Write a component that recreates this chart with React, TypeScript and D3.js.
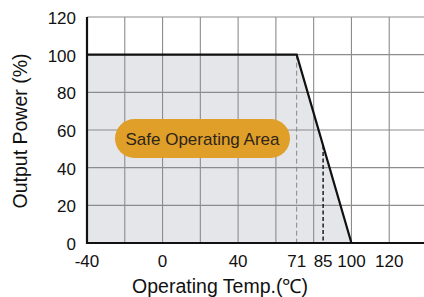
import React from "react";
import * as d3 from "d3";

// Data
const xTickValues = [-40, 0, 40, 71, 85, 100, 120];
const yTickValues = [0, 20, 40, 60, 80, 100, 120];
const xGridValues = [-40, -20, 0, 20, 40, 60, 80, 100, 120, 140];
const yGridValues = [20, 40, 60, 80, 100, 120];
const derateTemps = [-40, 71, 100];
const deratePower = [100, 100, 0];
const markerTemps = [71, 85];
const areaLabel = "Safe Operating Area";
const xTitle = "Operating Temp.(℃)";
const yTitle = "Output Power (%)";

const W = 424;
const H = 297;
const FONT = "'Liberation Sans', Arial, Helvetica, sans-serif";

export default function App() {
  const x = d3.scaleLinear().domain([-40, 140]).range([87, 427]);
  const y = d3.scaleLinear().domain([0, 120]).range([243, 17]);

  const pts: [number, number][] = derateTemps.map((t, i) => [t, deratePower[i]]);
  const area = d3
    .area<[number, number]>()
    .x((d) => x(d[0]))
    .y0(y(0))
    .y1((d) => y(d[1]));
  const line = d3
    .line<[number, number]>()
    .x((d) => x(d[0]))
    .y((d) => y(d[1]));
  const powerAt = d3.scaleLinear().domain(derateTemps).range(deratePower);

  const pillX0 = 115, pillX1 = 290, pillY0 = 119, pillY1 = 158;

  return (
    <svg width={W} height={H} style={{ display: "block", position: "absolute", left: 0, top: 0 }}>
      <rect width={W} height={H} fill="#ffffff" />
      <path d={area(pts) || ""} fill="#e5e6ea" />
      {xGridValues.map((v) => (
        <line key={"gx" + v} x1={x(v)} x2={x(v)} y1={y(120)} y2={y(0)} stroke="#8c8c8c" strokeWidth={1.1} />
      ))}
      {yGridValues.map((v) => (
        <line key={"gy" + v} x1={x(-40)} x2={W} y1={y(v)} y2={y(v)} stroke="#8c8c8c" strokeWidth={1.1} />
      ))}
      <line
        x1={x(markerTemps[0])}
        x2={x(markerTemps[0])}
        y1={y(powerAt(markerTemps[0]))}
        y2={y(0)}
        stroke="#888"
        strokeWidth={1}
        strokeDasharray="5,3"
      />
      <line
        x1={x(markerTemps[1])}
        x2={x(markerTemps[1])}
        y1={y(powerAt(markerTemps[1]))}
        y2={y(0)}
        stroke="#111"
        strokeWidth={1.4}
        strokeDasharray="4,2.5"
      />
      <path d={line(pts) || ""} fill="none" stroke="#111" strokeWidth={2.2} />
      <line x1={x(-40)} x2={x(-40)} y1={y(120)} y2={y(0) + 1} stroke="#111" strokeWidth={2.2} />
      <line x1={x(-40) - 1} x2={W} y1={y(0)} y2={y(0)} stroke="#111" strokeWidth={2.2} />

      <rect
        x={pillX0}
        y={pillY0}
        width={pillX1 - pillX0}
        height={pillY1 - pillY0}
        rx={(pillY1 - pillY0) / 2}
        fill="#df9f29"
      />
      <text
        x={(pillX0 + pillX1) / 2}
        y={(pillY0 + pillY1) / 2 + 6}
        textAnchor="middle"
        fontFamily={FONT}
        fontSize={17}
        fill="#2e2418"
      >
        {areaLabel}
      </text>

      {yTickValues.map((v) => (
        <text key={"yt" + v} x={76} y={y(v) + 7} textAnchor="end" fontFamily={FONT} fontSize={17} fill="#111">
          {v}
        </text>
      ))}
      {xTickValues.map((v) => (
        <text key={"xt" + v} x={x(v)} y={267} textAnchor="middle" fontFamily={FONT} fontSize={17} fill="#111">
          {v}
        </text>
      ))}
      <text x={220} y={293} textAnchor="middle" fontFamily={FONT} fontSize={19.5} fill="#111">
        {xTitle}
      </text>
      <text
        transform={`translate(27,${131}) rotate(-90)`}
        textAnchor="middle"
        fontFamily={FONT}
        fontSize={19.5}
        fill="#111"
      >
        {yTitle}
      </text>
    </svg>
  );
}
